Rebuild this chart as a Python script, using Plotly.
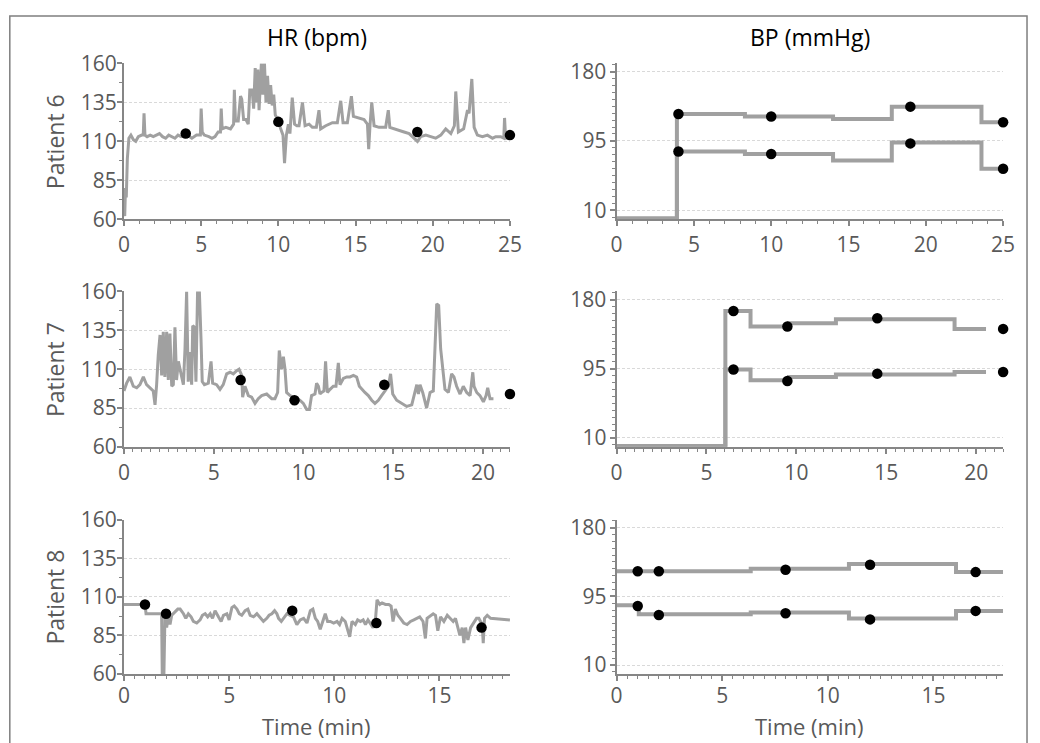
import plotly.graph_objects as go

# ---------------- data ----------------
# Patient 6 heart rate (time in min, bpm)
hr6_t = [0.00, 0.05, 0.10, 0.15, 0.22, 0.32, 0.45, 0.61, 0.76, 0.93,
         1.15, 1.25, 1.30, 1.36, 1.50, 1.70, 1.90, 2.10, 2.30, 2.50,
         2.70, 2.90, 3.10, 3.30, 3.50, 3.70, 3.90, 4.10, 4.40, 4.70,
         4.95, 5.00, 5.07, 5.20, 5.50, 5.70, 5.90, 6.10, 6.25, 6.30,
         6.36, 6.60, 6.90, 7.10, 7.15, 7.22, 7.40, 7.55, 7.63, 7.75,
         7.90, 8.05, 8.15, 8.30, 8.40, 8.45, 8.50, 8.60, 8.67, 8.75,
         8.85, 8.90, 9.00, 9.10, 9.20, 9.30, 9.40, 9.50, 9.60, 9.70,
         9.80, 9.90, 10.00, 10.15, 10.30, 10.40, 10.52, 10.65, 10.75, 10.90,
         11.05, 11.20, 11.34, 11.56, 11.73, 11.99, 12.20, 12.46, 12.63, 12.74,
         13.07, 13.50, 13.82, 14.04, 14.19, 14.47, 14.73, 14.86, 15.23, 15.55,
         15.77, 15.85, 15.94, 16.05, 16.20, 16.52, 16.95, 17.12, 17.22, 17.49,
         17.82, 18.14, 18.47, 18.79, 19.01, 19.22, 19.55, 19.87, 20.19, 20.52,
         20.84, 21.17, 21.40, 21.49, 21.66, 22.00, 22.25, 22.35, 22.53, 22.68,
         22.89, 23.22, 23.54, 23.87, 24.08, 24.40, 24.60, 24.65, 24.72, 25.00]
hr6_v = [75, 62, 80, 74, 99, 112, 114, 111, 110, 113,
         114, 114, 128, 114, 113, 114, 113, 114, 115, 113,
         112, 114, 113, 112, 114, 113, 114, 114, 112, 114,
         114, 131, 116, 114, 113, 112, 113, 116, 116, 131,
         118, 119, 118, 121, 143, 123, 123, 139, 137, 124,
         124, 121, 143, 143, 131, 150, 157, 135, 156, 130,
         158, 160, 140, 160, 135, 152, 134, 146, 133, 140,
         127, 125, 123, 118, 114, 96, 114, 121, 115, 138,
         121, 120, 120, 135, 120, 121, 119, 119, 130, 118,
         120, 122, 122, 136, 122, 122, 139, 126, 125, 124,
         121, 105, 121, 135, 120, 119, 119, 130, 119, 118,
         117, 116, 115, 112, 110, 113, 114, 113, 112, 114,
         118, 115, 120, 142, 116, 118, 130, 128, 150, 119,
         114, 113, 114, 112, 113, 113, 112, 125, 112, 112]

# Patient 7 heart rate
hr7_t = [0.00, 0.15, 0.33, 0.52, 0.71, 0.89, 1.08, 1.26, 1.45, 1.63,
         1.73, 1.82, 1.91, 2.01, 2.10, 2.19, 2.28, 2.38, 2.47, 2.56,
         2.66, 2.75, 2.84, 2.93, 3.03, 3.21, 3.31, 3.40, 3.49, 3.58,
         3.68, 3.77, 3.83, 3.92, 4.01, 4.10, 4.20, 4.29, 4.36, 4.48,
         4.70, 4.85, 4.94, 5.16, 5.35, 5.53, 5.72, 5.91, 6.09, 6.28,
         6.41, 6.56, 6.61, 6.74, 6.93, 7.11, 7.30, 7.48, 7.67, 7.95,
         8.23, 8.41, 8.56, 8.65, 8.78, 8.88, 8.97, 9.06, 9.25, 9.43,
         9.62, 9.80, 9.99, 10.18, 10.33, 10.45, 10.64, 10.73, 10.83, 10.92,
         11.01, 11.14, 11.23, 11.33, 11.48, 11.66, 11.81, 11.94, 12.03, 12.22,
         12.41, 12.59, 12.78, 12.96, 13.11, 13.24, 13.42, 13.61, 13.80, 13.98,
         14.17, 14.35, 14.54, 14.73, 14.85, 14.97, 15.19, 15.47, 15.75, 16.03,
         16.21, 16.31, 16.40, 16.49, 16.64, 16.86, 17.05, 17.23, 17.42, 17.53,
         17.64, 17.75, 17.88, 18.07, 18.25, 18.38, 18.53, 18.72, 18.90, 19.09,
         19.28, 19.43, 19.50, 19.65, 19.83, 20.02, 20.17, 20.26, 20.39, 20.58]
hr7_v = [96, 101, 105, 99, 98, 100, 105, 100, 98, 96,
         87, 100, 119, 132, 106, 134, 105, 134, 103, 133,
         99, 100, 137, 103, 115, 104, 100, 123, 160, 102,
         121, 100, 138, 137, 102, 160, 160, 130, 102, 100,
         101, 115, 101, 100, 97, 100, 107, 108, 107, 109,
         110, 106, 92, 99, 93, 92, 88, 91, 93, 94,
         91, 91, 95, 122, 110, 118, 110, 95, 93, 92,
         91, 90, 88, 84, 84, 93, 94, 101, 99, 94,
         95, 96, 115, 95, 97, 99, 99, 114, 100, 104,
         105, 105, 106, 105, 99, 97, 95, 93, 90, 88,
         90, 93, 96, 99, 107, 94, 90, 88, 86, 87,
         96, 100, 94, 100, 95, 85, 95, 96, 152, 151,
         123, 112, 97, 95, 107, 105, 99, 94, 99, 95,
         93, 108, 99, 95, 93, 89, 93, 98, 91, 91]

# Patient 8 heart rate
hr8_t = [0.00, 1.00, 1.05, 1.79, 1.82, 1.90, 1.95, 2.03, 2.11, 2.19,
         2.27, 2.43, 2.56, 2.67, 2.83, 2.94, 3.06, 3.19, 3.30, 3.46,
         3.62, 3.73, 3.86, 3.98, 4.10, 4.21, 4.33, 4.49, 4.62, 4.73,
         4.89, 5.00, 5.13, 5.24, 5.37, 5.48, 5.60, 5.76, 5.89, 6.00,
         6.16, 6.32, 6.48, 6.63, 6.79, 6.90, 7.03, 7.16, 7.27, 7.35,
         7.48, 7.59, 7.75, 7.90, 8.06, 8.22, 8.38, 8.54, 8.70, 8.86,
         8.98, 9.10, 9.21, 9.33, 9.46, 9.57, 9.68, 9.81, 9.97, 10.13,
         10.25, 10.37, 10.52, 10.63, 10.73, 10.84, 11.00, 11.11, 11.24, 11.37,
         11.48, 11.60, 11.71, 11.84, 11.95, 12.03, 12.16, 12.27, 12.43, 12.59,
         12.70, 12.79, 12.90, 13.02, 13.14, 13.30, 13.46, 13.62, 13.78, 13.94,
         14.06, 14.22, 14.33, 14.41, 14.57, 14.70, 14.81, 14.92, 15.05, 15.21,
         15.37, 15.52, 15.65, 15.76, 15.87, 15.97, 16.08, 16.16, 16.24, 16.35,
         16.48, 16.60, 16.76, 16.87, 17.03, 17.08, 17.14, 17.27, 17.43, 18.35]
hr8_v = [105, 105, 99, 99, 60, 60, 99, 90, 98, 92,
         98, 100, 102, 102, 99, 96, 99, 97, 94, 93,
         95, 98, 99, 97, 99, 96, 101, 97, 94, 98,
         99, 95, 103, 104, 102, 99, 98, 101, 102, 98,
         97, 99, 96, 94, 96, 98, 99, 101, 99, 96,
         94, 96, 99, 98, 97, 92, 95, 96, 93, 101,
         102, 96, 94, 89, 95, 99, 94, 94, 93, 94,
         92, 96, 94, 89, 84, 94, 92, 95, 94, 95,
         92, 95, 93, 90, 94, 108, 105, 106, 105, 105,
         104, 94, 102, 98, 96, 93, 92, 94, 95, 96,
         97, 94, 83, 96, 98, 99, 98, 88, 97, 94,
         98, 96, 94, 96, 91, 85, 90, 80, 90, 82,
         90, 93, 96, 96, 92, 80, 96, 98, 96, 95]

# Spot-check heart rate readings (dots)
hr6_dot_t = [4, 10, 19, 25]
hr6_dot_v = [115, 122.5, 116, 114]
hr7_dot_t = [6.5, 9.5, 14.5, 21.5]
hr7_dot_v = [103, 90, 100, 94]
hr8_dot_t = [1, 2, 8, 12, 17]
hr8_dot_v = [105, 99, 101, 93, 90]

# Blood pressure monitor (step changes: time, systolic, diastolic)
bp6_t = [0, 3.9, 8.3, 14.0, 17.8, 23.6, 25.0]
bp6_sys = [0, 128, 125, 122, 137, 118, 118]
bp6_dia = [0, 82, 79, 71, 93, 61, 61]
bp7_t = [0, 6.05, 7.45, 9.6, 12.2, 18.8, 20.55]
bp7_sys = [0, 166, 147, 151, 156, 144, 144]
bp7_dia = [0, 94, 81, 85, 88, 91, 91]
bp8_t = [0, 1.05, 6.35, 11.0, 16.07, 18.3]
bp8_sys = [126, 126, 129, 135, 125, 125]
bp8_dia = [84, 73, 75, 67.5, 77, 77]

# BP spot-check readings (dots)
bp6_dot_t = [4, 10, 19, 25]
bp6_dot_sys = [128, 125, 137, 118]
bp6_dot_dia = [82, 79, 92, 61]
bp7_dot_t = [6.5, 9.5, 14.5, 21.5]
bp7_dot_sys = [166, 147, 157, 144]
bp7_dot_dia = [94, 80, 89, 91]
bp8_dot_t = [1, 2, 8, 12, 17]
bp8_dot_sys = [126, 126, 128, 134, 125]
bp8_dot_dia = [83, 72, 74, 66.5, 77]

col_titles = ["HR (bpm)", "BP (mmHg)"]
row_titles = ["Patient 6", "Patient 7", "Patient 8"]
x_title = "Time (min)"
x_max = [25, 21.5, 18.35]
x_minor = [1, 0.5, 0.5]

# ---------------- style / layout ----------------
W, H = 1040, 743
FONT = "Open Sans"
AXC = "#868686"
TXT = "#595959"
GRID = "#d9d9d9"
LINE = "#a0a0a0"

# the photographed page is slightly shrunk and shifted; place elements so
# that they land on the wanted picture pixels
SX, OX = 0.9814, 6.2
SY, OY = 0.9662, 13.4


def lx(x):
    return (x - OX) / SX


def ly(y):
    return (y - OY) / SY


LEFT = (lx(124), lx(509.5))
RIGHT = (lx(616), lx(1002))
ROWS = [(ly(62), ly(218.5)), (ly(291), ly(447)), (ly(520), ly(675))]


def dx(a, b):
    return [a / W, b / W]


def dy(top, bot):
    return [1 - bot / H, 1 - top / H]


def xaxis(dom, rng, minor, anchor, standoff):
    return dict(domain=dom, range=rng, anchor=anchor, showline=True, linecolor=AXC,
                linewidth=2, ticks="outside", ticklen=5, tickwidth=1.5, tickcolor=AXC,
                tick0=0, dtick=5, ticklabelstandoff=standoff,
                minor=dict(tick0=0, dtick=minor, ticks="outside", ticklen=3,
                           tickwidth=1, tickcolor=AXC, showgrid=False),
                showgrid=False, zeroline=False, fixedrange=True,
                tickfont=dict(family=FONT, size=21, color=TXT))


def yaxis(dom, rng, tick0, dtick, mdtick, anchor, standoff):
    return dict(domain=dom, range=rng, anchor=anchor, showline=True, linecolor=AXC,
                linewidth=2, ticks="outside", ticklen=5, tickwidth=1.5, tickcolor=AXC,
                tick0=tick0, dtick=dtick, ticklabelstandoff=standoff,
                minor=dict(tick0=tick0, dtick=mdtick, ticks="outside", ticklen=3,
                           tickwidth=1, tickcolor=AXC, showgrid=False),
                showgrid=True, gridcolor=GRID, gridwidth=1, griddash="3px,2px",
                zeroline=False, fixedrange=True,
                tickfont=dict(family=FONT, size=21, color=TXT))


fig = go.Figure()

hr_sets = [(hr6_t, hr6_v, hr6_dot_t, hr6_dot_v),
           (hr7_t, hr7_v, hr7_dot_t, hr7_dot_v),
           (hr8_t, hr8_v, hr8_dot_t, hr8_dot_v)]
bp_sets = [(bp6_t, bp6_sys, bp6_dia, bp6_dot_t, bp6_dot_sys, bp6_dot_dia),
           (bp7_t, bp7_sys, bp7_dia, bp7_dot_t, bp7_dot_sys, bp7_dot_dia),
           (bp8_t, bp8_sys, bp8_dia, bp8_dot_t, bp8_dot_sys, bp8_dot_dia)]

layout_axes = {}
for r in range(3):
    top, bot = ROWS[r]
    ia = 2 * r + 1
    ib = 2 * r + 2
    xa = "x" if ia == 1 else f"x{ia}"
    ya = "y" if ia == 1 else f"y{ia}"
    xb, yb = f"x{ib}", f"y{ib}"
    xso = 1 if r < 2 else -3
    layout_axes["xaxis" if ia == 1 else f"xaxis{ia}"] = xaxis(dx(*LEFT), [0, x_max[r]], x_minor[r], ya, xso)
    layout_axes["yaxis" if ia == 1 else f"yaxis{ia}"] = yaxis(dy(top, bot), [60, 160], 60, 25, 12.5, xa, -4)
    xr = x_max[r] if r != 2 else 18.3
    layout_axes[f"xaxis{ib}"] = xaxis(dx(*RIGHT), [0, xr], x_minor[r], yb, xso)
    layout_axes[f"yaxis{ib}"] = yaxis(dy(top, bot), [-1, 190], 10, 85, 8.5, xb, -1)

    t, v, dt, dv = hr_sets[r]
    assert len(t) == len(v)
    fig.add_trace(go.Scatter(x=t, y=v, mode="lines", line=dict(color=LINE, width=3),
                             xaxis=xa, yaxis=ya, showlegend=False, hoverinfo="skip"))
    fig.add_trace(go.Scatter(x=dt, y=dv, mode="markers", cliponaxis=False,
                             marker=dict(color="black", size=10.5),
                             xaxis=xa, yaxis=ya, showlegend=False))

    bt, bs, bd, bdt, bds, bdd = bp_sets[r]
    for series in (bs, bd):
        fig.add_trace(go.Scatter(x=bt, y=series, mode="lines", line_shape="hv",
                                 line=dict(color=LINE, width=4),
                                 xaxis=xb, yaxis=yb, showlegend=False, hoverinfo="skip"))
    for series in (bds, bdd):
        fig.add_trace(go.Scatter(x=bdt, y=series, mode="markers", cliponaxis=False,
                                 marker=dict(color="black", size=10.5),
                                 xaxis=xb, yaxis=yb, showlegend=False))

annotations = []
for i, (a, b) in enumerate([LEFT, RIGHT]):
    annotations.append(dict(text=col_titles[i], x=(a + b) / 2 / W, y=1 - ly(35) / H,
                            xref="paper", yref="paper", showarrow=False,
                            xanchor="center", yanchor="middle",
                            font=dict(family=FONT, size=23, color="black")))
    annotations.append(dict(text=x_title, x=(a + b) / 2 / W, y=1 - ly(727) / H,
                            xref="paper", yref="paper", showarrow=False,
                            xanchor="center", yanchor="middle", borderpad=0,
                            font=dict(family=FONT, size=22, color=TXT)))
for r in range(3):
    top, bot = ROWS[r]
    annotations.append(dict(text=row_titles[r], x=lx(55) / W, y=1 - (top + bot) / 2 / H,
                            xref="paper", yref="paper", showarrow=False, textangle=-90,
                            xanchor="center", yanchor="middle",
                            font=dict(family=FONT, size=23, color=TXT)))

fig.update_layout(width=W, height=H, margin=dict(l=0, r=0, t=0, b=0),
                  paper_bgcolor="white", plot_bgcolor="white",
                  annotations=annotations, **layout_axes,
                  shapes=[dict(type="rect", xref="paper", yref="paper",
                               x0=lx(10) / W, x1=1039 / W, y0=-0.02, y1=1 - 1 / H,
                               line=dict(color="#7f7f7f", width=1.5), layer="below")])

# pin the figure to the top-left corner of the page
pin_js = ("document.body.style.margin='0';document.body.style.overflow='hidden';"
          "var d=document.getElementById('{plot_id}');"
          "d.style.position='fixed';d.style.left='0px';d.style.top='0px';")
fig.write_html("out.html", post_script=pin_js, config={"displayModeBar": False})
